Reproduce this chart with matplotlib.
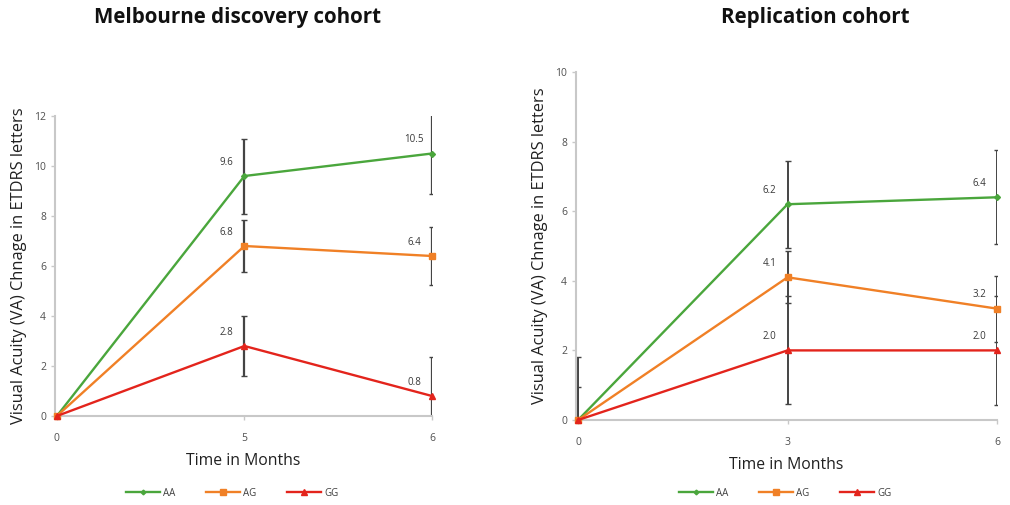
import numpy as np
import matplotlib
matplotlib.use('Agg')
import matplotlib.pyplot as plt

# time points (categorical) for each cohort
months_mel = ['0', '5', '6']
months_rep = ['0', '3', '6']

# Melbourne discovery cohort: mean VA change and error
mel_aa = [0, 9.6, 10.5]
mel_ag = [0, 6.8, 6.4]
mel_gg = [0, 2.8, 0.8]
mel_aa_err = [0, 1.5, 1.6]
mel_ag_err = [0, 1.05, 1.15]
mel_gg_err = [0, 1.2, 1.55]

# Replication cohort
rep_aa = [0, 6.2, 6.4]
rep_ag = [0, 4.1, 3.2]
rep_gg = [0, 2.0, 2.0]
rep_aa_err = [1.8, 1.25, 1.35]
rep_ag_err = [0.95, 0.75, 0.95]
rep_gg_err = [0, 1.55, 1.57]

genotypes = ['AA', 'AG', 'GG']
colors = ['#4aa63c', '#f08026', '#e3241c']
markers = ['D', 's', '^']
msizes = [3, 5, 5]

plt.rcParams['font.family'] = ['Open Sans', 'DejaVu Sans']

fig = plt.figure(figsize=(10.1, 5.05), dpi=100)
W, H = 1010, 505


def panel(rect, cats, series, errs, ymax, title, title_x, ew):
    ax = fig.add_axes([rect[0] / W, rect[1] / H, rect[2] / W, rect[3] / H])
    x = np.arange(len(cats))
    handles = []
    for vals, err, c, m, ms in zip(series, errs, colors, markers, msizes):
        ax.errorbar(x, vals, yerr=err, fmt='none', ecolor='#444444',
                    elinewidth=ew, capsize=2.5, capthick=1.0, zorder=2)
        h, = ax.plot(x, vals, color=c, lw=1.7, marker=m, ms=ms, zorder=3, clip_on=False)
        handles.append(h)
        for xi, v in zip(x[1:], vals[1:]):
            ax.annotate(f'{v:.1f}', (xi, v), xytext=(-13, 6), textcoords='offset points',
                        ha='center', va='bottom', fontsize=7, color='#383838')
    ax.set_xlim(-0.01, 2.0)
    ax.set_ylim(0, ymax)
    ax.set_yticks(np.arange(0, ymax + 1, 2))
    ax.set_xticks(x)
    ax.set_xticklabels(cats)
    for s in ['top', 'right']:
        ax.spines[s].set_visible(False)
    for s in ['left', 'bottom']:
        ax.spines[s].set_color('#c8c8c8')
        ax.spines[s].set_linewidth(1.5)
    ax.tick_params(axis='both', colors='#c8c8c8', length=3, width=1,
                   labelsize=7.5, labelcolor='#505050')
    ax.tick_params(axis='x', pad=9)
    ax.set_xlabel('Time in Months', fontsize=11.3, color='#202020', labelpad=7)
    ax.set_ylabel('Visual Acuity (VA) Chnage in ETDRS letters', fontsize=11.8,
                  color='#202020', labelpad=5)
    fig.text(title_x / W, 1 - 18 / H, title, ha='center', va='center',
             fontsize=14.8, fontweight='bold', color='#111111')
    return ax, handles


ax1, h1 = panel((55, 89, 377, 300), months_mel, [mel_aa, mel_ag, mel_gg],
                [mel_aa_err, mel_ag_err, mel_gg_err], 12, 'Melbourne discovery cohort', 238, 1.6)
ax2, h2 = panel((576, 85, 421, 348), months_rep, [rep_aa, rep_ag, rep_gg],
                [rep_aa_err, rep_ag_err, rep_gg_err], 10, 'Replication cohort', 815, 1.4)

for hs, cx in [(h1, 232), (h2, 785)]:
    fig.legend(hs, genotypes, loc='center', bbox_to_anchor=(cx / W, 1 - 493 / H),
               ncol=3, frameon=False, fontsize=7, handlelength=3.5, columnspacing=3.2,
               handletextpad=0.3, markerscale=0.8, labelcolor='#404040')

fig.savefig('out.png', dpi=100)
